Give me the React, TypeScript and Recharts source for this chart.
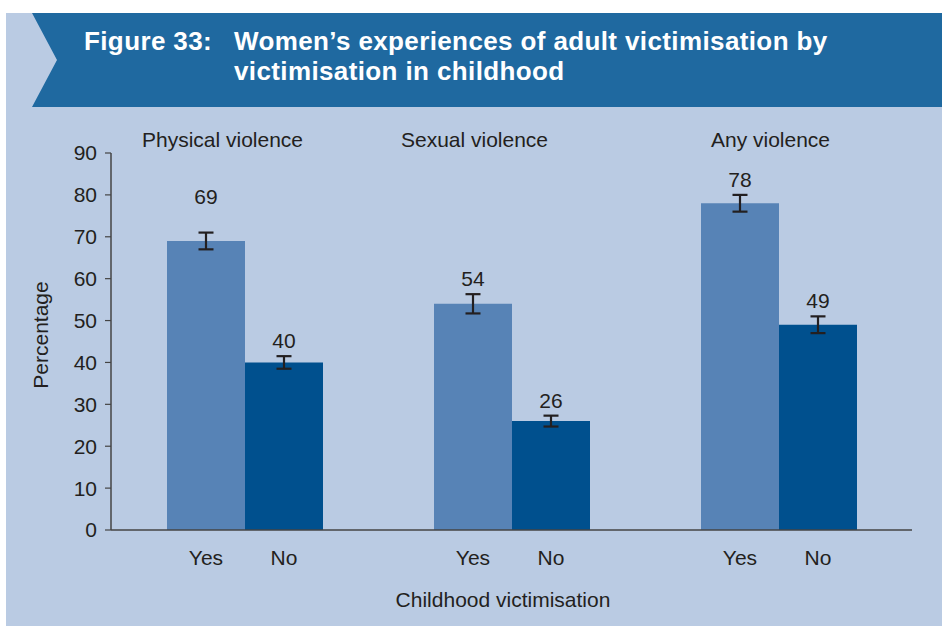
import React from 'react';
import { BarChart, Bar, XAxis, YAxis, ErrorBar, LabelList, Label } from 'recharts';

const categories = ['Physical violence', 'Sexual violence', 'Any violence'];
const yesValues = [69, 54, 78];
const noValues = [40, 26, 49];
const yesErrors = [2, 2.3, 2];
const noErrors = [1.5, 1.3, 2];
const yTicks = [0, 10, 20, 30, 40, 50, 60, 70, 80, 90];
const groupLabels = ['Yes', 'No'];
const titleLines = ['Women\u2019s experiences of adult victimisation by', 'victimisation in childhood'];
const figureLabel = 'Figure 33:';
const yAxisTitle = 'Percentage';
const xAxisTitle = 'Childhood victimisation';

const data = categories.map((c, i) => ({
  category: c,
  yes: yesValues[i],
  no: noValues[i],
  yesErr: yesErrors[i],
  noErr: noErrors[i],
}));

// style-only tweaks (text nudges)
const topLabelShift = [-22, -37, -8];
const yesLabelLift = [21, 0, 0];

const FONT = '"Liberation Sans", Arial, Helvetica, sans-serif';
const TEXT = '#231f20';
const AXIS = '#444444';
const LIGHT_BAR = '#5783b6';
const DARK_BAR = '#00508e';

const TopTick = (props: any) => {
  const { x, y, payload, index } = props;
  const i = typeof index === 'number' ? index : categories.indexOf(payload.value);
  return (
    <text x={x + (topLabelShift[i] || 0)} y={y + 2} textAnchor="middle" fill={TEXT} fontSize={21} fontFamily={FONT}>
      {payload.value}
    </text>
  );
};

const makeValueLabel = (values: number[], errors: number[], lift: number[] | null) => (props: any) => {
  const { x, y, width, height, value } = props;
  let i = typeof props.index === 'number' ? props.index : values.indexOf(Number(value));
  if (i < 0) i = 0;
  const pxPerUnit = Number(height) / Number(value);
  const errTop = Number(y) - errors[i] * pxPerUnit;
  const extra = lift ? lift[i] || 0 : 0;
  return (
    <text x={Number(x) + Number(width) / 2} y={errTop - 8 - extra} textAnchor="middle" fill={TEXT} fontSize={21} fontFamily={FONT}>
      {value}
    </text>
  );
};

const makeGroupLabel = (label: string) => (props: any) => {
  const { x, y, width, height } = props;
  return (
    <text x={Number(x) + Number(width) / 2} y={Number(y) + Number(height) + 35} textAnchor="middle" fill={TEXT} fontSize={21} fontFamily={FONT}>
      {label}
    </text>
  );
};

const titleStyle = { letterSpacing: '0.38px' };

export default function App() {
  return (
    <div style={{ position: 'absolute', left: 0, top: 0, width: 942, height: 627, background: '#ffffff', fontFamily: FONT }}>
      <svg width={942} height={627} style={{ position: 'absolute', left: 0, top: 0 }}>
        <rect x={6} y={13} width={936} height={613} fill="#bacbe3" />
        <polygon points="32,13 942,13 942,107 32,107 57,60" fill="#1f69a0" />
        <text x={84} y={50} fill="#ffffff" fontWeight="bold" fontSize={26} fontFamily={FONT} style={titleStyle}>{figureLabel}</text>
        <text x={234} y={50} fill="#ffffff" fontWeight="bold" fontSize={26} fontFamily={FONT} style={titleStyle}>{titleLines[0]}</text>
        <text x={234} y={80} fill="#ffffff" fontWeight="bold" fontSize={26} fontFamily={FONT} style={titleStyle}>{titleLines[1]}</text>
      </svg>
      <div style={{ position: 'absolute', left: 0, top: 0 }}>
        <BarChart
          width={942}
          height={627}
          data={data}
          margin={{ top: 123, right: 30, bottom: 67, left: 51 }}
          barCategoryGap={56}
          barGap={0}
        >
          <XAxis
            xAxisId="top"
            orientation="top"
            dataKey="category"
            axisLine={false}
            tickLine={false}
            height={30}
            interval={0}
            tick={<TopTick />}
          />
          <XAxis
            dataKey="category"
            height={30}
            tick={false}
            tickLine={false}
            axisLine={{ stroke: AXIS, strokeWidth: 1.5 }}
          >
            <Label
              content={() => (
                <text x={503} y={607} textAnchor="middle" fill={TEXT} fontSize={21} fontFamily={FONT}>
                  {xAxisTitle}
                </text>
              )}
            />
          </XAxis>
          <YAxis
            domain={[0, 90]}
            ticks={yTicks}
            interval={0}
            width={60}
            tickSize={6}
            tickMargin={8}
            axisLine={{ stroke: AXIS, strokeWidth: 1.5 }}
            tickLine={{ stroke: AXIS, strokeWidth: 1.2 }}
            tick={{ fill: TEXT, fontSize: 21, fontFamily: FONT }}
          >
            <Label
              content={() => (
                <text
                  x={48}
                  y={335}
                  transform="rotate(-90, 48, 335)"
                  textAnchor="middle"
                  fill={TEXT}
                  fontSize={21}
                  fontFamily={FONT}
                >
                  {yAxisTitle}
                </text>
              )}
            />
          </YAxis>
          <Bar dataKey="yes" fill={LIGHT_BAR} isAnimationActive={false}>
            <ErrorBar dataKey="yesErr" width={7.5} stroke={TEXT} strokeWidth={2.2} direction="y" />
            <LabelList dataKey="yes" content={makeValueLabel(yesValues, yesErrors, yesLabelLift)} />
            <LabelList dataKey="yes" content={makeGroupLabel(groupLabels[0])} />
          </Bar>
          <Bar dataKey="no" fill={DARK_BAR} isAnimationActive={false}>
            <ErrorBar dataKey="noErr" width={7.5} stroke={TEXT} strokeWidth={2.2} direction="y" />
            <LabelList dataKey="no" content={makeValueLabel(noValues, noErrors, null)} />
            <LabelList dataKey="no" content={makeGroupLabel(groupLabels[1])} />
          </Bar>
        </BarChart>
      </div>
    </div>
  );
}
